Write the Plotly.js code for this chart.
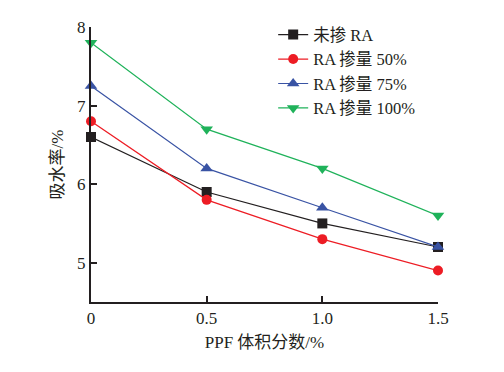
<!DOCTYPE html>
<html>
<head>
<meta charset="utf-8">
<script src="https://cdn.plot.ly/plotly-3.0.1.min.js"></script>
<style>html,body{margin:0;padding:0;background:#fff;}#chart{width:504px;height:372px;}</style>
</head>
<body>
<div id="chart"></div>
<script>
const ppf = [0, 0.5, 1.0, 1.5];
const seriesNames = ["未掺 RA", "RA 掺量 50%", "RA 掺量 75%", "RA 掺量 100%"];
const noRA = [6.6, 5.9, 5.5, 5.2];
const ra50 = [6.8, 5.8, 5.3, 4.9];
const ra75 = [7.25, 6.2, 5.7, 5.2];
const ra100 = [7.8, 6.7, 6.2, 5.6];
const xTickVals = [0, 0.5, 1.0, 1.5];
const xTickText = ["0", "0.5", "1.0", "1.5"];
const yTickVals = [5, 6, 7, 8];
const yTickText = ["5", "6", "7", "8"];

const colors = ["#231f20", "#ed1c24", "#3953a4", "#1fb25a"];
const symbols = ["square", "circle", "triangle-up", "triangle-down"];
const sizes = [10, 10, 11, 11];
const values = [noRA, ra50, ra75, ra100];

const serif = "Liberation Serif, Noto Sans CJK SC, serif";
const ink = "#231f20";
const traces = values.map((v, i) => ({
  x: ppf, y: v, name: seriesNames[i], type: "scatter", mode: "lines+markers",
  line: {color: colors[i], width: 1.2},
  marker: {color: colors[i], symbol: symbols[i], size: sizes[i]},
  cliponaxis: false
}));

const layout = {
  width: 504, height: 372,
  margin: {l: 91, r: 66, t: 27, b: 70},
  paper_bgcolor: "#fff", plot_bgcolor: "#fff",
  font: {family: serif, size: 17, color: ink},
  showlegend: true,
  legend: {x: 0.525, y: 1.035, xanchor: "left", yanchor: "top", bgcolor: "rgba(0,0,0,0)",
           font: {family: serif, size: 16.5, color: ink}, tracegroupgap: 0, itemwidth: 30},
  xaxis: {range: [0, 1.5], tickvals: xTickVals, ticktext: xTickText, ticks: "inside", ticklen: 6, tickwidth: 2,
          tickcolor: ink, showline: true, linecolor: ink, linewidth: 2, showgrid: false, zeroline: false,
          tickfont: {family: serif, size: 17, color: ink},
          title: {text: "PPF 体积分数/%", font: {family: serif, size: 17, color: ink}, standoff: 9}},
  yaxis: {range: [4.5, 8], tickvals: yTickVals, ticktext: yTickText, ticks: "inside", ticklen: 6, tickwidth: 2,
          tickcolor: ink, showline: true, linecolor: ink, linewidth: 2, showgrid: false, zeroline: false,
          tickfont: {family: serif, size: 17, color: ink},
          title: {text: "吸水率/%", font: {family: serif, size: 17, color: ink}, standoff: 9}}
};
Plotly.newPlot("chart", traces, layout, {displayModeBar: false, staticPlot: true});
</script>
</body>
</html>
